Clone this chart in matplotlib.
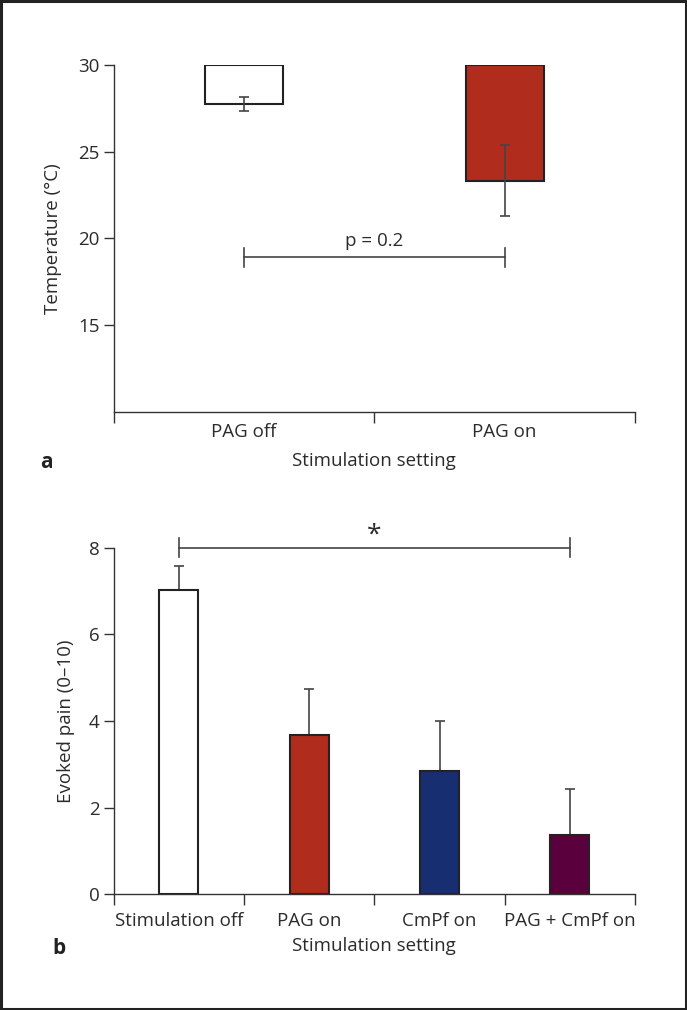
import matplotlib
matplotlib.use("Agg")
import matplotlib.pyplot as plt
from matplotlib.patches import Rectangle

plt.rcParams['font.family'] = ['Open Sans', 'DejaVu Sans']

# ---- data ----
temp_categories = ["PAG off", "PAG on"]
temp_values = [27.75, 23.32]
temp_errors = [0.43, 2.05]
temp_colors = ["white", "#B02D1D"]
temp_pvalue_text = "p = 0.2"
temp_bracket_y = 18.9
temp_yticks = [15, 20, 25, 30]

pain_categories = ["Stimulation off", "PAG on", "CmPf on", "PAG + CmPf on"]
pain_values = [7.02, 3.68, 2.85, 1.38]
pain_errors = [0.56, 1.07, 1.15, 1.06]
pain_colors = ["white", "#B02D1D", "#172E70", "#5A003C"]
pain_yticks = [0, 2, 4, 6, 8]
pain_bracket_y = 8.0

TXT = "#2b2b2b"
LINE = "#333333"
ERR = "#444444"
FS = 13.5

fig = plt.figure(figsize=(6.87, 10.10), dpi=100)

# figure frame
fig.patches.append(Rectangle((0.0015, 0.001), 0.997, 0.998, transform=fig.transFigure,
                             fill=False, edgecolor="#222222", linewidth=2.2))

def style_axes(ax, n):
    for s in ["top", "right"]:
        ax.spines[s].set_visible(False)
    for s in ["left", "bottom"]:
        ax.spines[s].set_color(LINE)
        ax.spines[s].set_linewidth(1.0)
    ax.set_xlim(0, n)
    ax.set_xticks([i + 0.5 for i in range(n)])
    ax.set_xticks(list(range(n + 1)), minor=True)
    ax.tick_params(axis="x", which="major", length=0, labelsize=FS, labelcolor=TXT)
    ax.tick_params(axis="x", which="minor", length=8, width=1.0, color=LINE, direction="out")
    ax.tick_params(axis="y", which="major", length=7, width=1.0, color=LINE,
                   labelsize=FS, labelcolor=TXT, pad=3)

# ---- panel a ----
ax1 = fig.add_axes([0.1655, 0.5924, 0.7588, 0.3432])
n1 = len(temp_categories)
x1 = [i + 0.5 for i in range(n1)]
base = 30
ax1.bar(x1, [v - base for v in temp_values], bottom=base, width=0.30,
        color=temp_colors, edgecolor="#222222", linewidth=1.5, zorder=2)
ax1.errorbar(x1, temp_values, yerr=temp_errors, fmt="none", ecolor=ERR,
             elinewidth=1.2, capsize=3.6, capthick=1.2, zorder=3)
ax1.set_ylim(10, 30)
ax1.set_yticks(temp_yticks)
style_axes(ax1, n1)
ax1.set_xticklabels(temp_categories)
ax1.tick_params(axis="x", which="major", pad=8)
ax1.set_ylabel("Temperature (°C)", fontsize=FS, color=TXT, labelpad=12)
ax1.set_xlabel("Stimulation setting", fontsize=FS, color=TXT, labelpad=8)
# p-value bracket
ax1.plot([x1[0], x1[1]], [temp_bracket_y, temp_bracket_y], color=ERR, lw=1.2, zorder=3)
for xx in (x1[0], x1[1]):
    ax1.plot([xx, xx], [temp_bracket_y - 0.55, temp_bracket_y + 0.55], color=ERR, lw=1.2)
ax1.text((x1[0] + x1[1]) / 2, temp_bracket_y + 0.45, temp_pvalue_text, ha="center",
         va="bottom", fontsize=FS, color=TXT)

fig.text(0.068, 0.5416, "a", fontsize=15, fontweight="bold", color="#222222",
         ha="center", va="center")

# ---- panel b ----
ax2 = fig.add_axes([0.1655, 0.1145, 0.7588, 0.3432])
n2 = len(pain_categories)
x2 = [i + 0.5 for i in range(n2)]
ax2.bar(x2, pain_values, width=0.30, color=pain_colors, edgecolor="#222222",
        linewidth=1.5, zorder=2)
ax2.errorbar(x2, pain_values, yerr=[[0] * n2, pain_errors], fmt="none", ecolor=ERR,
             elinewidth=1.2, capsize=3.6, capthick=1.2, zorder=1)
ax2.set_ylim(0, 8)
ax2.set_yticks(pain_yticks)
style_axes(ax2, n2)
ax2.set_xticklabels(pain_categories)
ax2.tick_params(axis="x", which="major", pad=13)
ax2.set_ylabel("Evoked pain (0–10)", fontsize=FS, color=TXT, labelpad=10)
ax2.set_xlabel("Stimulation setting", fontsize=FS, color=TXT, labelpad=5)
# significance bracket
ax2.plot([x2[0], x2[-1]], [pain_bracket_y, pain_bracket_y], color=ERR, lw=1.2,
         clip_on=False)
for xx in (x2[0], x2[-1]):
    ax2.plot([xx, xx], [pain_bracket_y - 0.22, pain_bracket_y + 0.22], color=ERR, lw=1.2,
             clip_on=False)
ax2.text((x2[0] + x2[-1]) / 2, pain_bracket_y + 0.0, "*", ha="center", va="bottom",
         fontsize=19, color=TXT)

fig.text(0.086, 0.0604, "b", fontsize=15, fontweight="bold", color="#222222",
         ha="center", va="center")

fig.savefig("out.png", dpi=100, facecolor="white")
